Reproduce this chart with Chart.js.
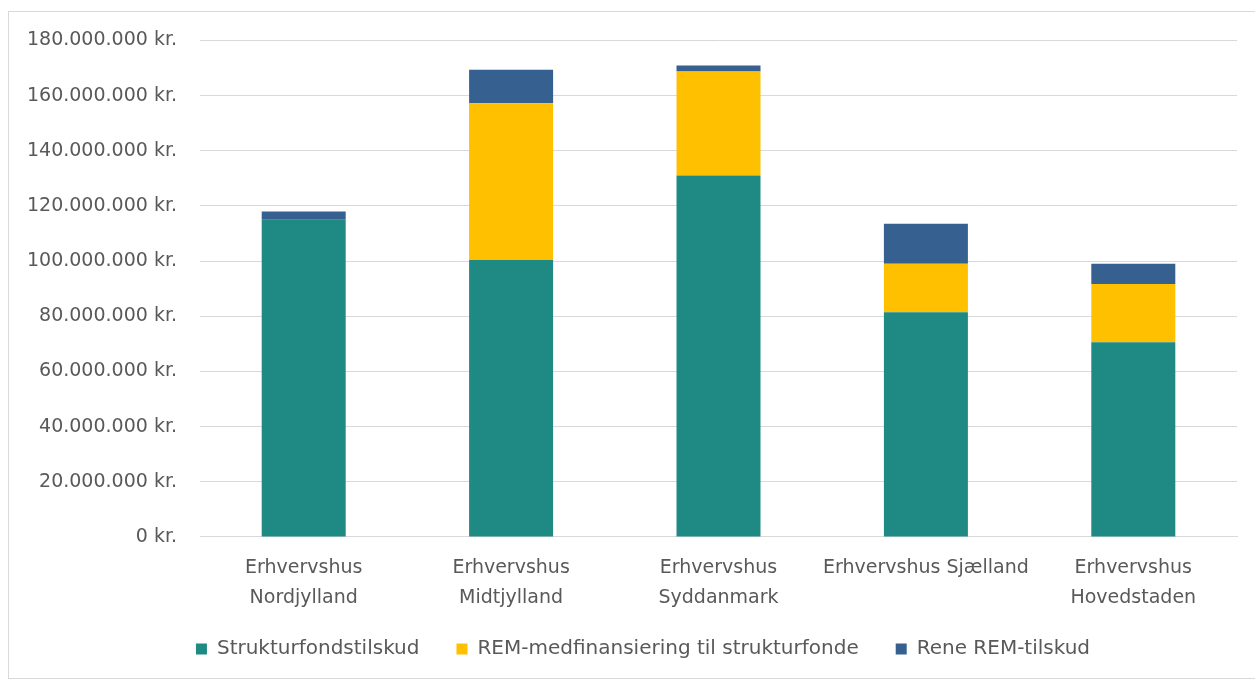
<!DOCTYPE html>
<html>
<head>
<meta charset="utf-8">
<script src="https://cdn.jsdelivr.net/npm/chart.js@4"></script>
<style>
  body { margin: 0; background: #fff; overflow: hidden; }
  #frame { position: absolute; left: 8px; top: 11px; width: 1280px; height: 668px; border: 1px solid #d9d9d9; box-sizing: border-box; }
  #wrap { position: absolute; left: 0; top: -6px; width: 1268px; height: 672px; }
</style>
</head>
<body>
<div id="frame"><div id="wrap"><canvas id="chart"></canvas></div></div>
<script>
// stacked funding per Erhvervshus (kr.)
const categories = [
  ['Erhvervshus', 'Nordjylland'],
  ['Erhvervshus', 'Midtjylland'],
  ['Erhvervshus', 'Syddanmark'],
  'Erhvervshus Sjælland',
  ['Erhvervshus', 'Hovedstaden'],
];
const strukturfond   = [115000000, 100400000, 131000000, 81500000, 70600000];
const remMedfinans   = [0, 56800000, 37700000, 17500000, 21100000];
const reneRem        = [3000000, 12200000, 2200000, 14500000, 7300000];
const yTicks = [0, 20000000, 40000000, 60000000, 80000000, 100000000, 120000000, 140000000, 160000000, 180000000];

const fmtKr = v => String(Math.round(v)).replace(/\B(?=(\d{3})+(?!\d))/g, '.') + ' kr.';

Chart.defaults.font.family = '"DejaVu Sans", "Open Sans", sans-serif';
Chart.defaults.font.size = 19;
Chart.defaults.color = '#595959';

new Chart(document.getElementById('chart'), {
  type: 'bar',
  data: {
    labels: categories,
    datasets: [
      { label: 'Strukturfondstilskud', data: strukturfond, backgroundColor: '#1f8a83' },
      { label: 'REM-medfinansiering til strukturfonde', data: remMedfinans, backgroundColor: '#ffc000' },
      { label: 'Rene REM-tilskud', data: reneRem, backgroundColor: '#36608f' },
    ]
  },
  options: {
    responsive: true,
    maintainAspectRatio: false,
    animation: false,
    layout: { padding: { left: 0, right: 0, top: 7, bottom: 9 } },
    datasets: { bar: { barPercentage: 0.405, categoryPercentage: 1 } },
    scales: {
      x: {
        stacked: true,
        grid: { display: false, drawTicks: false },
        border: { color: '#d9d9d9' },
        ticks: { padding: 16, maxRotation: 0, autoSkip: false, font: { lineHeight: 1.58 } },
        afterFit: axis => {
          axis.height -= 27;
          axis._computeLabelArea = () => undefined; // let the 2nd label line spill into legend gap
        }
      },
      y: {
        stacked: true,
        min: 0, max: 180000000,
        afterBuildTicks: axis => { axis.ticks = yTicks.map(v => ({ value: v })); },
        afterFit: axis => { axis.width = 191; },
        grid: { color: '#d9d9d9', lineWidth: 1, drawTicks: false },
        border: { display: false },
        ticks: { padding: 23, callback: v => fmtKr(v) }
      },
      // empty right-hand spacer so the legend centres like the original
      spacer: {
        type: 'linear', position: 'right',
        grid: { display: false }, border: { display: false }, ticks: { display: false },
        afterFit: axis => { axis.width = 40; }
      }
    },
    plugins: {
      legend: {
        position: 'bottom',
        labels: { boxWidth: 11, boxHeight: 11, padding: 37, font: { size: 20 } }
      },
      tooltip: { enabled: false }
    }
  }
});
</script>
</body>
</html>
